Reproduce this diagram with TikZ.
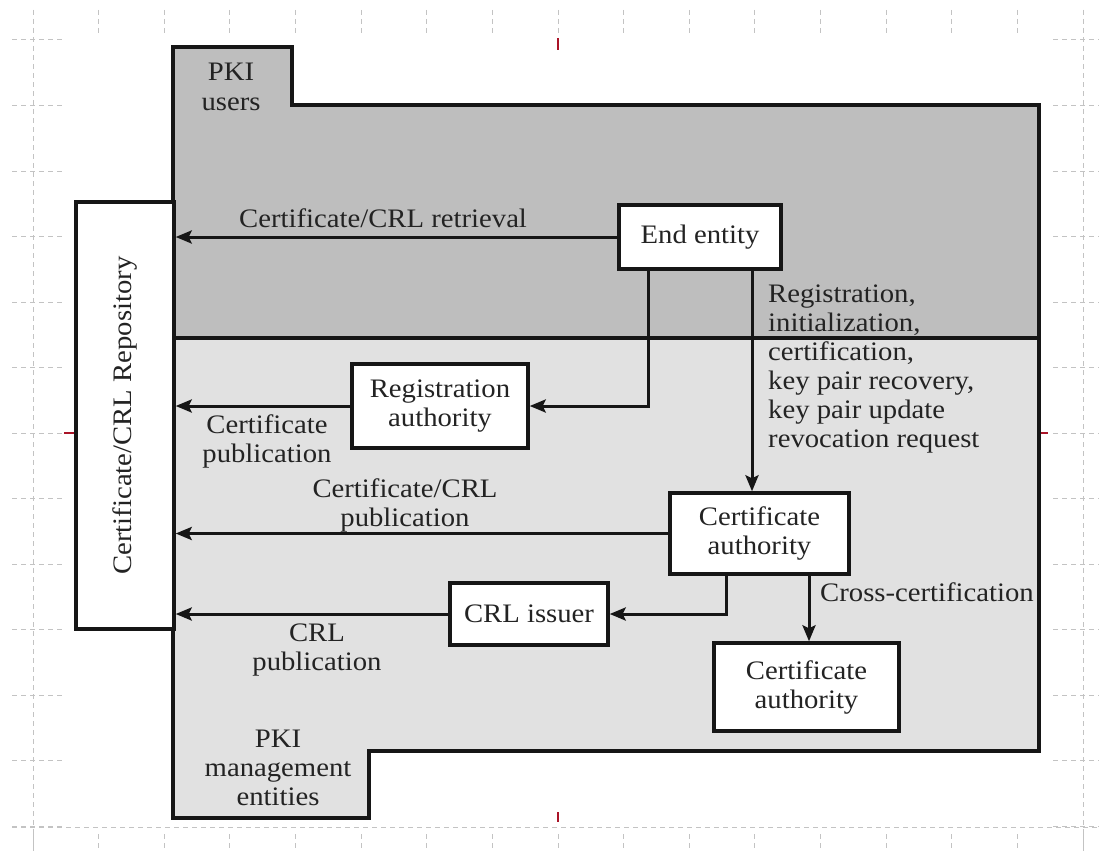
\documentclass[tikz,border=0pt]{standalone}
\usepackage{fontspec}
\setmainfont{Liberation Serif}[FakeStretch=1.075]
\usetikzlibrary{arrows.meta}
\definecolor{upperc}{RGB}{190,190,190}
\definecolor{lowerc}{RGB}{225,225,225}
\definecolor{ink}{RGB}{22,22,22}
\definecolor{txt}{RGB}{35,35,35}
\definecolor{gridc}{RGB}{195,195,195}
\definecolor{markred}{RGB}{170,20,40}
\begin{document}
\begin{tikzpicture}[x=1pt,y=-1pt,
  every node/.style={font=\fontsize{26.7}{29}\selectfont, text=txt},
  box/.style={draw=ink, line width=3.4pt, fill=white, inner sep=0pt, align=center},
  lbl/.style={inner sep=0pt, align=center},
  arr/.style={draw=ink, line width=3pt, -{Stealth[length=16pt,width=13pt,inset=3pt]}},
  gridline/.style={draw=gridc, line width=1pt, dash pattern=on 5pt off 4pt},
  outline/.style={draw=ink, line width=3.4pt, line join=miter}
]
\useasboundingbox (0,0) rectangle (1099,851);

% background ruler grid
\foreach \i in {0,...,16} {
  \pgfmathsetmacro\gx{33+65.625*\i}
  \draw[gridline] (\gx,10) -- (\gx,36);
  \draw[gridline] (\gx,834) -- (\gx,851);
}
\foreach \j in {0,...,12} {
  \pgfmathsetmacro\gy{40+65.5*\j}
  \draw[gridline] (12,\gy) -- (64,\gy);
  \draw[gridline] (1053,\gy) -- (1099,\gy);
}
\draw[gridline] (33,10) -- (33,851);
\draw[gridline] (1083,10) -- (1083,851);
\draw[gridline] (12,827) -- (1099,827);
\draw[markred, line width=1.2pt] (558,38) -- (558,50);
\draw[markred, line width=1.2pt] (558,812) -- (558,822);
\draw[markred, line width=1.2pt] (64,433) -- (74,433);
\draw[markred, line width=1.2pt] (1040,433) -- (1048,433);

% PKI regions
\path[fill=lowerc] (173,47) -- (292,47) -- (292,105) -- (1039,105) -- (1039,751)
  -- (369,751) -- (369,818) -- (173,818) -- cycle;
\path[fill=upperc] (173,47) -- (292,47) -- (292,105) -- (1039,105) -- (1039,338)
  -- (173,338) -- cycle;
\draw[outline] (173,338) -- (1039,338);
\draw[outline] (173,47) -- (292,47) -- (292,105) -- (1039,105) -- (1039,751)
  -- (369,751) -- (369,818) -- (173,818) -- cycle;

% repository
\node[box, minimum width=98pt, minimum height=427pt] (repo) at (125,415.5)
  {\rotatebox{90}{Certificate/CRL Repository}};

% boxes
\node[box, minimum width=162pt, minimum height=64pt] (ee) at (700,237) {End entity};
\node[box, minimum width=176pt, minimum height=84pt] (ra) at (440,406) {Registration\\authority};
\node[box, minimum width=179pt, minimum height=81pt] (ca) at (759.5,533.5) {Certificate\\authority};
\node[box, minimum width=158pt, minimum height=62pt] (crl) at (529,614) {CRL issuer};
\node[box, minimum width=185pt, minimum height=88pt] (ca2) at (806.5,687) {Certificate\\authority};

% connectors
\draw[arr] (ee.west) -- (ee.west -| repo.east);
\draw[arr] ([xshift=-52pt]ee.south) |- (ra.east);
\draw[arr] ([xshift=52pt]ee.south) -- ([xshift=52pt]ee.south |- ca.north);
\draw[arr] (ra.west) -- (ra.west -| repo.east);
\draw[arr] (ca.west) -- (ca.west -| repo.east);
\draw[arr] ([xshift=-33.5pt]ca.south) |- (crl.east);
\draw[arr] (crl.west) -- (crl.west -| repo.east);
\draw[arr] ([xshift=49.5pt]ca.south) -- ([xshift=49.5pt]ca.south |- ca2.north);

% labels (base = baseline of last line)
\node[lbl, anchor=base] (lusers) at (231,110) {PKI\\users};
\node[lbl, anchor=base west] (lret) at (239,227) {Certificate/CRL retrieval};
\node[lbl, anchor=base] (lpub1) at (267,462) {Certificate\\publication};
\node[lbl, anchor=base] (lpub2) at (405,526) {Certificate/CRL\\publication};
\node[lbl, anchor=base] (lpub3) at (317,670) {CRL\\publication};
\node[lbl, anchor=base west, align=left] (lreg) at (768,447)
  {Registration,\\initialization,\\certification,\\key pair recovery,\\key pair update\\revocation request};
\node[lbl, anchor=base west] (lcross) at (820,601) {Cross-certification};
\node[lbl, anchor=base] (lmgmt) at (278,805) {PKI\\management\\entities};
\end{tikzpicture}
\end{document}
